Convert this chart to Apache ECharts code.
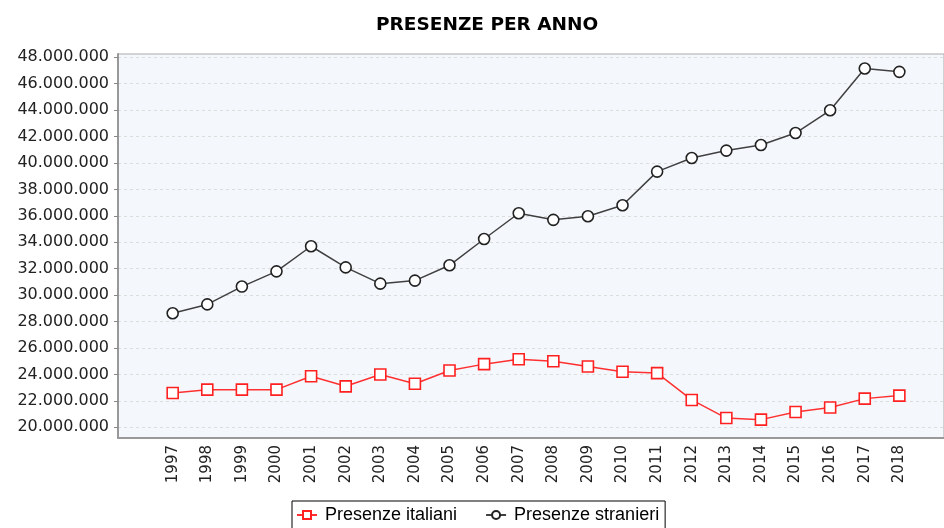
<!DOCTYPE html>
<html>
<head>
<meta charset="utf-8">
<script src="https://cdn.jsdelivr.net/npm/echarts@6/dist/echarts.min.js"></script>
<style>
  html, body { margin: 0; padding: 0; background: #fff; }
  #main { width: 944px; height: 528px; }
</style>
</head>
<body>
<div id="main"></div>
<script>
// dati
var anni = [1997, 1998, 1999, 2000, 2001, 2002, 2003, 2004, 2005, 2006, 2007,
            2008, 2009, 2010, 2011, 2012, 2013, 2014, 2015, 2016, 2017, 2018];
var italiani = [22600000, 22850000, 22850000, 22850000, 23860000, 23100000, 24000000,
                23300000, 24300000, 24780000, 25150000, 25000000, 24600000, 24200000,
                24100000, 22070000, 20700000, 20580000, 21160000, 21500000, 22170000, 22400000];
var stranieri = [28630000, 29300000, 30650000, 31800000, 33700000, 32100000, 30870000,
                 31100000, 32260000, 34250000, 36200000, 35700000, 35970000, 36800000,
                 39350000, 40380000, 40940000, 41360000, 42270000, 43990000, 47150000, 46900000];
var tickY = [20000000, 22000000, 24000000, 26000000, 28000000, 30000000, 32000000,
             34000000, 36000000, 38000000, 40000000, 42000000, 44000000, 46000000, 48000000];

function coppie(valori) {
  return anni.map(function (a, i) { return [a, valori[i]]; });
}

function formatta(v) {
  return String(Math.round(v)).replace(/\B(?=(\d{3})+(?!\d))/g, '.');
}

var chart = echarts.init(document.getElementById('main'));
var option = {
  animation: false,
  backgroundColor: '#fff',
  title: {
    text: 'PRESENZE PER ANNO',
    left: 371,
    top: 11,
    textStyle: { fontFamily: 'DejaVu Sans', fontWeight: 'bold', fontSize: 18.5, color: '#000' }
  },
  legend: {
    bottom: -8,
    left: 292,
    borderColor: '#000',
    borderWidth: 1,
    borderRadius: 0,
    padding: [5, 6, 12, 4],
    itemGap: 28,
    itemWidth: 20,
    itemHeight: 10,
    textStyle: { fontFamily: 'Liberation Sans', fontSize: 18, color: '#000', padding: [0, 0, 0, 3] },
    data: ['Presenze italiani', 'Presenze stranieri']
  },
  grid: {
    left: 118,
    right: -2,
    top: 54,
    bottom: 90,
    show: true,
    backgroundColor: '#f4f8fc',
    borderColor: '#aaa',
    borderWidth: 1
  },
  xAxis: {
    type: 'value',
    min: 1995.42,
    max: 2019.29,
    axisLine: { show: true, lineStyle: { color: '#999', width: 2 } },
    axisTick: { show: false },
    splitLine: { show: false },
    axisLabel: {
      customValues: anni,
      rotate: 90,
      margin: 7,
      fontFamily: 'DejaVu Sans',
      fontSize: 15,
      color: '#222',
      formatter: function (v) { return String(v); }
    }
  },
  yAxis: {
    type: 'value',
    min: 19190000,
    max: 48250000,
    axisLine: { show: true, lineStyle: { color: '#999', width: 2 } },
    axisTick: { show: true, customValues: tickY, length: 4, lineStyle: { color: '#888' } },
    splitLine: { show: true, lineStyle: { color: '#dcdcdc', type: [3, 3] } },
    axisLabel: {
      customValues: tickY,
      margin: 9,
      fontFamily: 'DejaVu Sans',
      fontSize: 16,
      color: '#222',
      formatter: formatta
    }
  },
  series: [
    {
      name: 'Presenze italiani',
      type: 'line',
      data: coppie(italiani),
      symbol: 'rect',
      symbolSize: 11,
      lineStyle: { color: '#ff3030', width: 1.5 },
      itemStyle: { color: '#fff', borderColor: '#ff2020', borderWidth: 1.6 }
    },
    {
      name: 'Presenze stranieri',
      type: 'line',
      data: coppie(stranieri),
      symbol: 'circle',
      symbolSize: 11,
      lineStyle: { color: '#404040', width: 1.5 },
      itemStyle: { color: '#fff', borderColor: '#222', borderWidth: 1.6 }
    }
  ]
};
chart.setOption(option);
</script>
</body>
</html>
